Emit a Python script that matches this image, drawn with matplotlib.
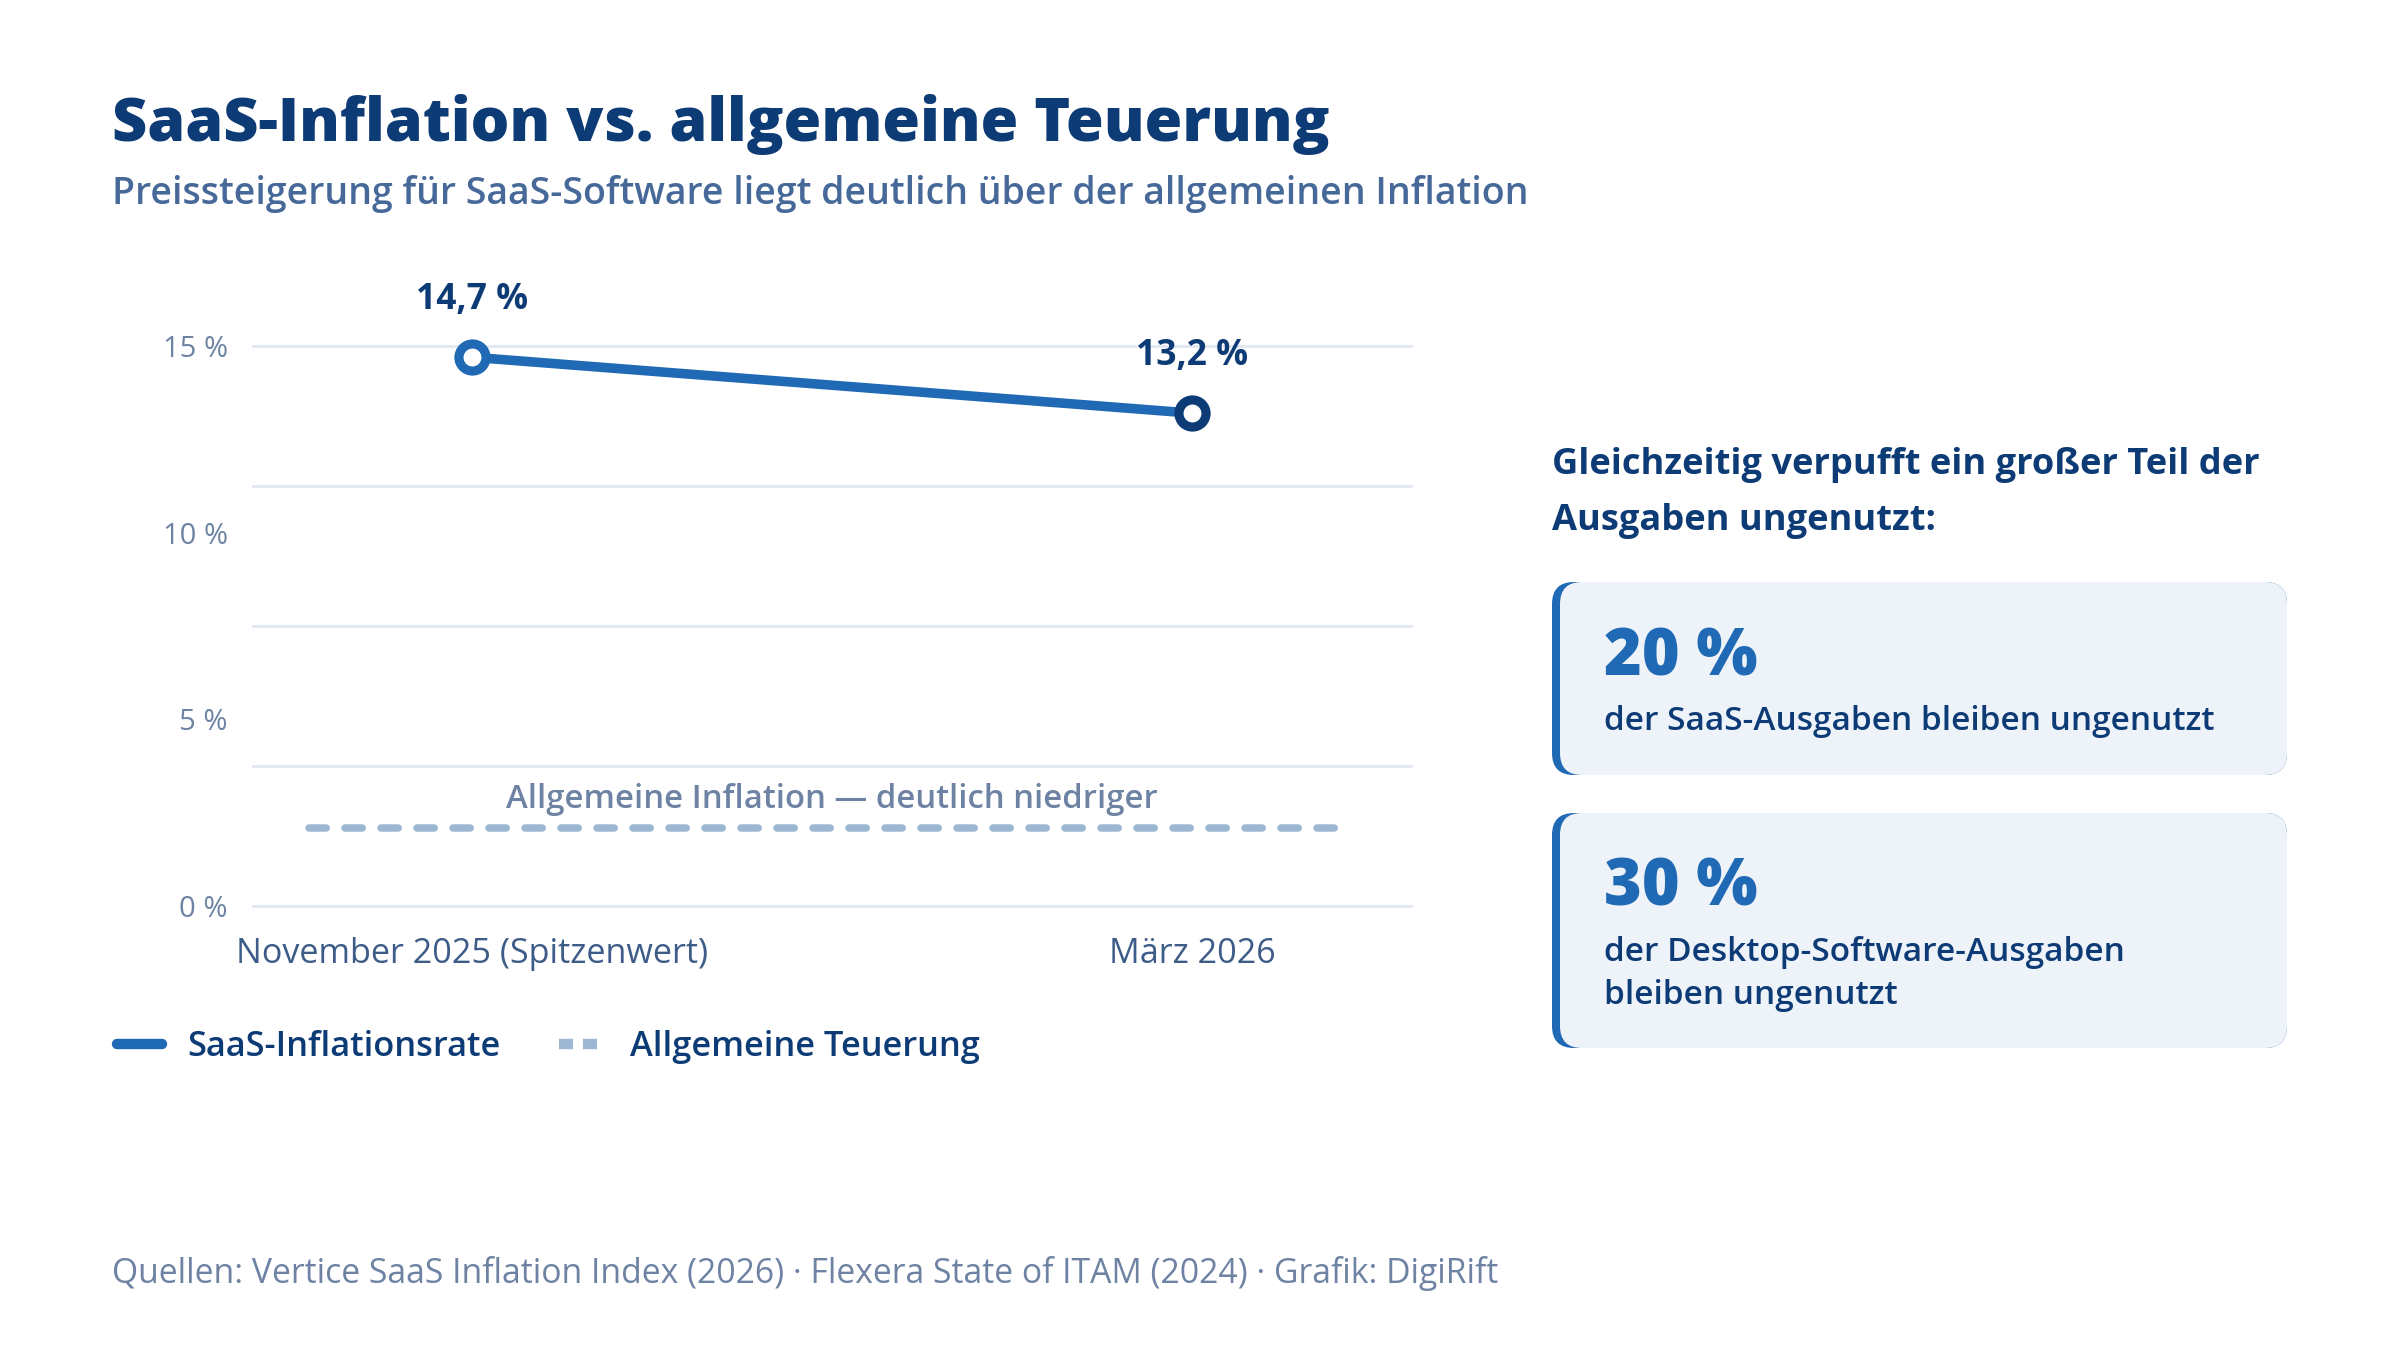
import matplotlib
matplotlib.use("Agg")
import matplotlib.pyplot as plt
from matplotlib.lines import Line2D
from matplotlib.patches import FancyBboxPatch
import numpy as np

plt.rcParams['font.family'] = ['Open Sans', 'DejaVu Sans']

# Daten
periods = ['November 2025 (Spitzenwert)', 'März 2026']
saas_rate = [14.7, 13.2]
general_inflation = 2.1
y_ticks = [0, 5, 10, 15]
y_tick_labels = ['0 %', '5 %', '10 %', '15 %']

title = 'SaaS-Inflation vs. allgemeine Teuerung'
subtitle = 'Preissteigerung für SaaS-Software liegt deutlich über der allgemeinen Inflation'
inflation_note = 'Allgemeine Inflation — deutlich niedriger'
legend_labels = ['SaaS-Inflationsrate', 'Allgemeine Teuerung']
side_heading = ['Gleichzeitig verpufft ein großer Teil der', 'Ausgaben ungenutzt:']
stat_values = ['20 %', '30 %']
stat_texts = [['der SaaS-Ausgaben bleiben ungenutzt'],
              ['der Desktop-Software-Ausgaben', 'bleiben ungenutzt']]
source = 'Quellen: Vertice SaaS Inflation Index (2026) · Flexera State of ITAM (2024) · Grafik: DigiRift'

# Farben
NAVY = '#0d3b75'
BLUE = '#1f69b5'
DASH = '#9db7d2'
GRID = '#e2e9f2'
MUTED = '#6e83a3'
SUB = '#46699a'
CARD = '#eef3fa'

fig = plt.figure(figsize=(16, 9), dpi=150)
fig.patch.set_facecolor('white')

# Hauptdiagramm
ax = fig.add_axes([0.1053, 0.3289, 0.4827, 0.4148])
x = np.arange(len(periods))

# Gitterlinien (4 Abschnitte, unabhängig von den Beschriftungen)
for g in np.linspace(0, 15, 5):
    ax.axhline(g, color=GRID, lw=1.4, zorder=1, clip_on=False)

ax.plot(x, saas_rate, color=BLUE, lw=4.6, solid_capstyle='round', zorder=3)
for i, (xi, v) in enumerate(zip(x, saas_rate)):
    edge = BLUE if i == 0 else NAVY
    ax.plot(xi, v, marker='o', ms=13, mew=4.4, mfc='white', mec=edge, zorder=4, clip_on=False)
    ax.annotate(f'{v:.1f} %'.replace('.', ','), (xi, v), xytext=(0, 27.5),
                textcoords='offset points', ha='center', va='center',
                fontsize=17, fontweight='bold', color=NAVY, annotation_clip=False)

ax.axhline(general_inflation, xmin=0.049, xmax=0.942, color=DASH, lw=3.6,
           dashes=(2.3, 2.5), dash_capstyle='round', zorder=2)
ax.annotate(inflation_note, (np.mean(x), general_inflation), xytext=(0, 13.5),
            textcoords='offset points', ha='center', va='center',
            fontsize=15.8, color=MUTED, fontweight='semibold')

ax.set_xlim(-0.304, 1.304)
ax.set_ylim(0, 15)
ax.set_yticks(y_ticks)
ax.set_yticklabels(y_tick_labels)
ax.set_xticks(x)
ax.set_xticklabels(periods)
ax.tick_params(axis='y', length=0, pad=12, labelsize=14, labelcolor=MUTED)
ax.tick_params(axis='x', length=0, pad=15, labelsize=16.4, labelcolor='#3d5c88')
for s in ax.spines.values():
    s.set_visible(False)

# Legende
handles = [Line2D([], [], color=BLUE, lw=5, solid_capstyle='round'),
           Line2D([], [], color=DASH, lw=5, dashes=(1.35, 0.95), dash_capstyle='butt')]
fig.legend(handles, legend_labels, loc='center left',
           bbox_to_anchor=(0.0359, 1 - 1047 / 1350), ncol=2, frameon=False,
           labelcolor=NAVY, handlelength=1.3, handletextpad=0.75,
           columnspacing=1.7, prop={'weight': 'semibold', 'size': 16.5})

# Overlay in Pixelkoordinaten
ov = fig.add_axes([0, 0, 1, 1], zorder=-1)
ov.set_xlim(0, 2400)
ov.set_ylim(1350, 0)
ov.axis('off')

ov.text(112, 141, title, fontsize=29.3, fontweight='heavy', color=NAVY, va='baseline')
ov.text(112, 204, subtitle, fontsize=18, fontweight='semibold', color=SUB, va='baseline')

for j, line in enumerate(side_heading):
    ov.text(1552, 474 + j * 56, line, fontsize=17.4, fontweight='bold', color=NAVY, va='baseline')

cards = [(582, 775), (813, 1048)]
for (top, bottom), val, lines in zip(cards, stat_values, stat_texts):
    ov.add_patch(FancyBboxPatch((1552, top), 2287 - 1552, bottom - top,
                                boxstyle='round,pad=0,rounding_size=22', fc=BLUE, ec='none'))
    ov.add_patch(FancyBboxPatch((1560, top), 2287 - 1560, bottom - top,
                                boxstyle='round,pad=0,rounding_size=22', fc=CARD, ec='none'))
    ov.text(1604, top + 93, val, fontsize=31, fontweight='heavy', color=BLUE, va='baseline')
    for j, line in enumerate(lines):
        ov.text(1604, top + 148 + j * 43, line, fontsize=16, fontweight='semibold',
                color=NAVY, va='baseline')

ov.text(112, 1283, source, fontsize=16.2, color=MUTED, va='baseline')

fig.savefig('out.png', dpi=150, facecolor='white')
